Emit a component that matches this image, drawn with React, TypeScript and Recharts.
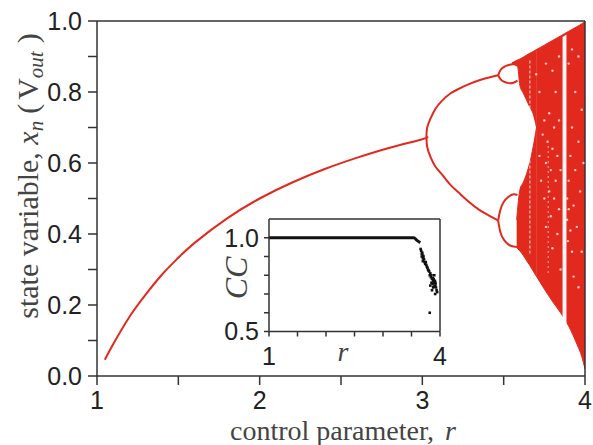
import React from 'react';
import { ComposedChart, Line, Area, Scatter, XAxis, YAxis, Label } from 'recharts';

const RED = '#e12a1d';
const AXIS = '#333';
const SANS = 'Liberation Sans, Arial, sans-serif';
const SERIF = 'Liberation Serif, Times New Roman, serif';

// ---------- main chart: ticks ----------
const xTicks = [1, 1.5, 2, 2.5, 3, 3.5, 4];
const yTicks = [0, 0.1, 0.2, 0.3, 0.4, 0.5, 0.6, 0.7, 0.8, 0.9, 1.0];

// period-1 branch
const p1R = [1.048, 1.1, 1.2, 1.3, 1.4, 1.5, 1.6, 1.8, 2.0, 2.2, 2.4, 2.6, 2.8, 3.0, 3.025];
const p1X = [0.046, 0.09, 0.167, 0.23, 0.286, 0.333, 0.375, 0.444, 0.5, 0.545, 0.583, 0.615, 0.643, 0.667, 0.673];

// period-2 branches
const p2R = [3.025, 3.03, 3.05, 3.08, 3.12, 3.17, 3.22, 3.28, 3.35, 3.41, 3.466];
const p2Up = [0.673, 0.7, 0.725, 0.752, 0.775, 0.795, 0.808, 0.821, 0.833, 0.841, 0.847];
const p2Lo = [0.673, 0.645, 0.617, 0.59, 0.568, 0.54, 0.518, 0.493, 0.468, 0.452, 0.438];

// period-4 bubbles
const p4R = [3.466, 3.48, 3.5, 3.53, 3.56, 3.585];
const p4UpOuter = [0.847, 0.861, 0.87, 0.876, 0.879, 0.884];
const p4UpInner = [0.847, 0.836, 0.829, 0.825, 0.826, 0.832];
const p4LoOuter = [0.438, 0.468, 0.49, 0.505, 0.512, 0.51];
const p4LoInner = [0.438, 0.405, 0.385, 0.37, 0.365, 0.363];

// chaotic upper band (before merging)
const bandUpR = [3.55, 3.585, 3.6, 3.62, 3.641, 3.66, 3.681, 3.702];
const bandUpLo = [0.878, 0.872, 0.818, 0.797, 0.777, 0.758, 0.739, 0.7];
const bandUpHi = [0.882, 0.89, 0.893, 0.898, 0.904, 0.909, 0.914, 0.92];

// chaotic lower band (before merging)
const bandLoR = [3.58, 3.6, 3.62, 3.641, 3.66, 3.681, 3.702];
const bandLoLo = [0.362, 0.352, 0.34, 0.325, 0.312, 0.296, 0.28];
const bandLoHi = [0.44, 0.525, 0.545, 0.57, 0.6, 0.645, 0.7];

// merged chaotic band
const bandR = [3.7, 3.75, 3.8, 3.85, 3.9, 3.95, 3.98, 4.0];
const bandLo = [0.282, 0.245, 0.21, 0.178, 0.14, 0.09, 0.055, 0.02];
const bandHi = [0.919, 0.932, 0.945, 0.958, 0.971, 0.984, 0.992, 1.0];

// periodic window (white stripe)
const windowR = [3.862, 3.886];
const windowLo = [0.15, 0.148];
const windowHi = [0.955, 0.962];

// faint windows
const faint1R = [3.661, 3.661];
const faint1X = [0.345, 0.892];
const faint2R = [3.774, 3.774];
const faint2X = [0.29, 0.65];

// sparse (white) spots inside the chaotic band
const gapR = [3.72, 3.73, 3.74, 3.75, 3.75, 3.76, 3.76, 3.77, 3.78, 3.78, 3.79, 3.79, 3.8, 3.8, 3.81, 3.81,
  3.82, 3.82, 3.83, 3.83, 3.84, 3.84, 3.85, 3.85, 3.89, 3.89, 3.895, 3.9, 3.9, 3.91, 3.91, 3.92, 3.92,
  3.93, 3.93, 3.94, 3.94, 3.95, 3.96, 3.96, 3.97, 3.98, 3.98, 3.99, 3.7, 3.72, 3.76, 3.8, 3.84, 3.9, 3.92, 3.96];
const gapX = [0.62, 0.55, 0.68, 0.5, 0.72, 0.6, 0.42, 0.66, 0.52, 0.74, 0.58, 0.45, 0.64, 0.36, 0.7, 0.5,
  0.55, 0.8, 0.62, 0.4, 0.47, 0.72, 0.58, 0.3, 0.44, 0.5, 0.38, 0.47, 0.55, 0.41, 0.62, 0.35, 0.7,
  0.48, 0.28, 0.58, 0.8, 0.42, 0.66, 0.25, 0.52, 0.75, 0.35, 0.6, 0.85, 0.8, 0.88, 0.86, 0.9, 0.88, 0.92, 0.9];

// ---------- inset: correlation coefficient ----------
const insetXTicks = [1, 1.5, 2, 2.5, 3, 3.5, 4];
const insetYTicks = [0.5, 0.6, 0.7, 0.8, 0.9, 1.0];
const ccLineR = [1, 1.5, 2, 2.5, 3, 3.4, 3.54, 3.595, 3.654];
const ccLineV = [1, 1, 1, 1, 1, 1, 1.0, 0.986, 0.974];
const ccPtR = [3.66, 3.67, 3.68, 3.69, 3.7, 3.7, 3.71, 3.72, 3.73, 3.68, 3.7, 3.74, 3.75, 3.76, 3.77,
  3.78, 3.79, 3.8, 3.81, 3.82, 3.83, 3.84, 3.85, 3.86, 3.87, 3.88, 3.89, 3.9, 3.91, 3.92,
  3.85, 3.87, 3.89, 3.91, 3.93, 3.94, 3.95, 3.86, 3.83, 3.915, 3.82, 3.88, 3.92, 3.9];
const ccPtV = [0.94, 0.93, 0.915, 0.92, 0.905, 0.89, 0.9, 0.885, 0.87, 0.9, 0.875, 0.86, 0.87, 0.855, 0.845,
  0.84, 0.83, 0.825, 0.82, 0.8, 0.81, 0.79, 0.8, 0.78, 0.785, 0.77, 0.78, 0.76, 0.77, 0.75,
  0.76, 0.755, 0.74, 0.74, 0.735, 0.72, 0.71, 0.72, 0.745, 0.7, 0.6, 0.735, 0.76, 0.8];

const pts = (rs: number[], xs: number[]) => rs.map((r, i) => ({ r, x: xs[i] }));
const band = (rs: number[], lo: number[], hi: number[]) => rs.map((r, i) => ({ r, v: [lo[i], hi[i]] }));

const YLabel = () => (
  <text
    x={38}
    y={176}
    transform="rotate(-90, 38, 176)"
    textAnchor="middle"
    fontFamily={SERIF}
    fontSize={30}
    fill="#444"
  >
    <tspan>state variable, </tspan>
    <tspan fontStyle="italic">x</tspan>
    <tspan fontStyle="italic" fontSize={21} dy={5}>n</tspan>
    <tspan dy={-5} dx={7}>(</tspan>
    <tspan dx={4}>V</tspan>
    <tspan fontStyle="italic" fontSize={21} dy={5}>out</tspan>
    <tspan dy={-5} dx={8}>)</tspan>
  </text>
);

const XLabel = () => (
  <text x={343} y={440} textAnchor="middle" fontFamily={SERIF} fontSize={28} fill="#444">
    <tspan>control parameter, </tspan>
    <tspan fontStyle="italic" dx={4}>r</tspan>
  </text>
);

const CCLabel = () => (
  <text x={47} y={88} transform="rotate(-90, 47, 88)" textAnchor="middle" fontFamily={SERIF} fontSize={32} fontStyle="italic" fill="#444">
    CC
  </text>
);

const RLabel = () => (
  <text x={143} y={171} textAnchor="middle" fontFamily={SERIF} fontSize={28} fontStyle="italic" fill="#444">
    r
  </text>
);

const tickStyle = { fontFamily: SANS, fontSize: 25, fill: '#222' };
const axisLine = { stroke: AXIS, strokeWidth: 1.5 };
const tickLine = { stroke: AXIS, strokeWidth: 1.5 };

const Dot = (props: any) => <rect x={props.cx - 1.3} y={props.cy - 1.3} width={2.6} height={2.6} fill="#111" />;
const Spot = (props: any) => <circle cx={props.cx} cy={props.cy} r={1.2} fill="#fff" fillOpacity={0.75} />;

export default function App() {
  return (
    <div style={{ position: 'absolute', left: 0, top: 0, width: 593, height: 445, background: '#fff' }}>
      <div style={{ position: 'absolute', left: 0, top: 0 }}>
        <ComposedChart width={593} height={445} margin={{ top: 0, right: 0, bottom: 0, left: 0 }}>
          <XAxis
            xAxisId="b"
            type="number"
            dataKey="r"
            domain={[1, 4]}
            ticks={xTicks}
            interval={0}
            orientation="bottom"
            height={69}
            tickSize={9}
            tickMargin={6}
            axisLine={axisLine}
            tickLine={tickLine}
            tick={tickStyle}
            tickFormatter={(v: number) => (Number.isInteger(v) ? String(v) : '')}
            allowDataOverflow
          >
            <Label content={() => <XLabel />} />
          </XAxis>
          <XAxis
            xAxisId="t"
            type="number"
            dataKey="r"
            domain={[1, 4]}
            ticks={xTicks}
            interval={0}
            orientation="top"
            height={21}
            tickSize={9}
            axisLine={axisLine}
            tickLine={tickLine}
            tick={false}
          />
          <YAxis
            yAxisId="l"
            type="number"
            dataKey="x"
            domain={[0, 1]}
            ticks={yTicks}
            interval={0}
            width={97}
            tickSize={9}
            tickMargin={6}
            axisLine={axisLine}
            tickLine={tickLine}
            tick={tickStyle}
            tickFormatter={(v: number) => (Math.round(v * 10) % 2 === 0 ? v.toFixed(1) : '')}
            allowDataOverflow
          >
            <Label content={() => <YLabel />} />
          </YAxis>
          <YAxis
            yAxisId="r"
            orientation="right"
            type="number"
            domain={[0, 1]}
            ticks={yTicks}
            interval={0}
            width={8}
            tickSize={9}
            axisLine={axisLine}
            tickLine={tickLine}
            tick={false}
          />

          <Area xAxisId="b" yAxisId="l" data={band(bandUpR, bandUpLo, bandUpHi)} dataKey="v" type="monotone" stroke={RED} strokeWidth={1} fill={RED} fillOpacity={1} isAnimationActive={false} />
          <Area xAxisId="b" yAxisId="l" data={band(bandLoR, bandLoLo, bandLoHi)} dataKey="v" type="monotone" stroke={RED} strokeWidth={1} fill={RED} fillOpacity={1} isAnimationActive={false} />
          <Area xAxisId="b" yAxisId="l" data={band(bandR, bandLo, bandHi)} dataKey="v" type="monotone" stroke={RED} strokeWidth={1} fill={RED} fillOpacity={1} isAnimationActive={false} />
          <Area xAxisId="b" yAxisId="l" data={band(windowR, windowLo, windowHi)} dataKey="v" type="linear" stroke="none" fill="#fff" fillOpacity={0.95} isAnimationActive={false} />

          <Line xAxisId="b" yAxisId="l" data={pts(faint1R, faint1X)} dataKey="x" stroke="#fff" strokeOpacity={0.7} strokeWidth={1.2} strokeDasharray="3 2" dot={false} isAnimationActive={false} />
          <Line xAxisId="b" yAxisId="l" data={pts(faint2R, faint2X)} dataKey="x" stroke="#fff" strokeOpacity={0.5} strokeWidth={1.2} strokeDasharray="2 3" dot={false} isAnimationActive={false} />
          <Scatter xAxisId="b" yAxisId="l" data={pts(gapR, gapX)} dataKey="x" shape={Spot} isAnimationActive={false} />

          <Line xAxisId="b" yAxisId="l" data={pts(p1R, p1X)} dataKey="x" type="natural" stroke={RED} strokeWidth={2} dot={false} isAnimationActive={false} />
          <Line xAxisId="b" yAxisId="l" data={pts(p2R, p2Up)} dataKey="x" type="natural" stroke={RED} strokeWidth={2} dot={false} isAnimationActive={false} />
          <Line xAxisId="b" yAxisId="l" data={pts(p2R, p2Lo)} dataKey="x" type="natural" stroke={RED} strokeWidth={2} dot={false} isAnimationActive={false} />
          <Line xAxisId="b" yAxisId="l" data={pts(p4R, p4UpOuter)} dataKey="x" type="natural" stroke={RED} strokeWidth={2} dot={false} isAnimationActive={false} />
          <Line xAxisId="b" yAxisId="l" data={pts(p4R, p4UpInner)} dataKey="x" type="natural" stroke={RED} strokeWidth={2} dot={false} isAnimationActive={false} />
          <Line xAxisId="b" yAxisId="l" data={pts(p4R, p4LoOuter)} dataKey="x" type="natural" stroke={RED} strokeWidth={2} dot={false} isAnimationActive={false} />
          <Line xAxisId="b" yAxisId="l" data={pts(p4R, p4LoInner)} dataKey="x" type="natural" stroke={RED} strokeWidth={2} dot={false} isAnimationActive={false} />
        </ComposedChart>
      </div>

      <div style={{ position: 'absolute', left: 200, top: 190 }}>
        <ComposedChart width={260} height={190} margin={{ top: 0, right: 0, bottom: 0, left: 0 }}>
          <XAxis
            xAxisId="b"
            type="number"
            dataKey="r"
            domain={[1, 4]}
            ticks={insetXTicks}
            interval={0}
            orientation="bottom"
            height={48.5}
            tickSize={5}
            tickMargin={11}
            axisLine={axisLine}
            tickLine={tickLine}
            tick={tickStyle}
            tickFormatter={(v: number) => (v === 1 || v === 4 ? String(v) : '')}
          >
            <Label content={() => <RLabel />} />
          </XAxis>
          <XAxis
            xAxisId="t"
            type="number"
            dataKey="r"
            domain={[1, 4]}
            ticks={insetXTicks}
            interval={0}
            orientation="top"
            height={29}
            tickSize={5}
            axisLine={axisLine}
            tickLine={tickLine}
            tick={false}
          />
          <YAxis
            yAxisId="l"
            type="number"
            dataKey="cc"
            domain={[0.5, 1.1]}
            ticks={insetYTicks}
            interval={0}
            width={69}
            tickSize={5}
            tickMargin={5}
            axisLine={axisLine}
            tickLine={tickLine}
            tick={tickStyle}
            tickFormatter={(v: number) => (Math.abs(v - 0.5) < 1e-6 ? '0.5' : Math.abs(v - 1) < 1e-6 ? '1.0' : '')}
          >
            <Label content={() => <CCLabel />} />
          </YAxis>
          <YAxis
            yAxisId="r"
            orientation="right"
            type="number"
            dataKey="cc"
            domain={[0.5, 1.1]}
            ticks={insetYTicks}
            interval={0}
            width={20}
            tickSize={5}
            axisLine={axisLine}
            tickLine={tickLine}
            tick={false}
          />
          <Line xAxisId="b" yAxisId="l" data={ccLineR.map((r, i) => ({ r, cc: ccLineV[i] }))} dataKey="cc" type="monotone" stroke="#111" strokeWidth={3} dot={false} isAnimationActive={false} />
          <Scatter xAxisId="b" yAxisId="l" data={ccPtR.map((r, i) => ({ r, cc: ccPtV[i] }))} dataKey="cc" shape={Dot} isAnimationActive={false} />
        </ComposedChart>
      </div>
    </div>
  );
}
